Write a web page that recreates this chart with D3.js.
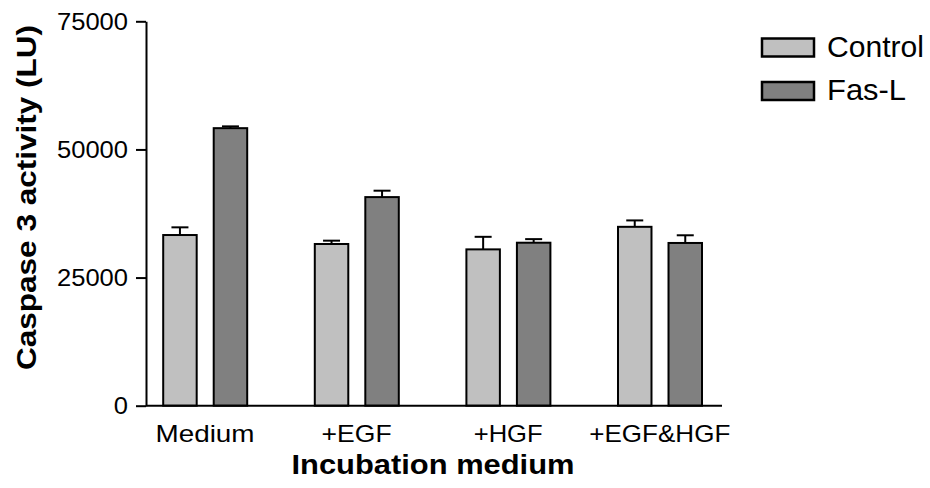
<!DOCTYPE html>
<html>
<head>
<meta charset="utf-8">
<script src="https://cdn.jsdelivr.net/npm/d3@7"></script>
<style>
  html, body { margin: 0; padding: 0; background: #fff; }
  text { font-family: 'Liberation Sans', Arial, sans-serif; fill: #000; }
</style>
</head>
<body>
<div id="chart"></div>
<script>
const categories = ['Medium', '+EGF', '+HGF', '+EGF&HGF']
const series = ['Control', 'Fas-L']
const controlMeans = [33300, 31550, 30500, 34900]
const controlErrors = [1500, 650, 2450, 1250]
const faslMeans = [54150, 40700, 31800, 31750]
const faslErrors = [350, 1250, 700, 1500]
const yTicks = [0, 25000, 50000, 75000]
const colors = ['#c0c0c0', '#808080']

const width = 930
const height = 488

const svg = d3.select('#chart')
  .append('svg')
  .attr('width', width)
  .attr('height', height)

const y = d3.scaleLinear().domain([0, 75000]).range([405.7, 21.3])
const x = d3.scaleBand().domain(categories).range([129.2, 735.6])
const xs = d3.scaleBand().domain(series).range([34, 118]).paddingInner(0.337)

const rows = categories.map((cat, i) => ({
  cat,
  values: [
    { key: 'Control', mean: controlMeans[i], err: controlErrors[i] },
    { key: 'Fas-L', mean: faslMeans[i], err: faslErrors[i] }
  ]
}))

// bars + error bars
const groups = svg.append('g')
  .selectAll('g')
  .data(rows)
  .enter()
  .append('g')
  .attr('transform', d => `translate(${x(d.cat)},0)`)

const bar = groups.selectAll('g')
  .data(d => d.values)
  .enter()
  .append('g')

bar.append('line')
  .attr('x1', d => xs(d.key) + xs.bandwidth() / 2)
  .attr('x2', d => xs(d.key) + xs.bandwidth() / 2)
  .attr('y1', d => y(d.mean))
  .attr('y2', d => y(d.mean + d.err))
  .attr('stroke', '#000')
  .attr('stroke-width', 2)

bar.append('line')
  .attr('x1', d => xs(d.key) + xs.bandwidth() / 2 - 8.5)
  .attr('x2', d => xs(d.key) + xs.bandwidth() / 2 + 8.5)
  .attr('y1', d => y(d.mean + d.err))
  .attr('y2', d => y(d.mean + d.err))
  .attr('stroke', '#000')
  .attr('stroke-width', 2)

bar.append('rect')
  .attr('x', d => xs(d.key))
  .attr('y', d => y(d.mean))
  .attr('width', xs.bandwidth())
  .attr('height', d => y(0) - y(d.mean))
  .attr('fill', d => colors[series.indexOf(d.key)])
  .attr('stroke', '#000')
  .attr('stroke-width', 2)

// y axis
const yAxis = svg.append('g')
  .attr('transform', 'translate(146,0)')
  .call(d3.axisLeft(y).tickValues(yTicks).tickSize(10).tickSizeOuter(0).tickPadding(8).tickFormat(d3.format('d')))

yAxis.select('.domain').attr('stroke', '#000').attr('stroke-width', 2)
yAxis.selectAll('.tick line').attr('stroke', '#000').attr('stroke-width', 2)
yAxis.selectAll('.tick text')
  .attr('font-size', 23)
  .attr('dy', '0.36em')
  .attr('textLength', d => String(d).length * 14.2)
  .attr('lengthAdjust', 'spacingAndGlyphs')
  .style('font-family', "'Liberation Sans', Arial, sans-serif")
  .attr('fill', '#000')

// x baseline
svg.append('line')
  .attr('x1', 146)
  .attr('x2', 722)
  .attr('y1', y(0))
  .attr('y2', y(0))
  .attr('stroke', '#000')
  .attr('stroke-width', 2)

// x labels
const labelWidths = [99, 70, 69, 141]
svg.append('g')
  .selectAll('text')
  .data(categories)
  .enter()
  .append('text')
  .attr('x', d => x(d) + x.bandwidth() / 2)
  .attr('y', 442)
  .attr('text-anchor', 'middle')
  .attr('font-size', 24)
  .attr('textLength', (d, i) => labelWidths[i])
  .attr('lengthAdjust', 'spacingAndGlyphs')
  .text(d => d)

// axis titles
svg.append('text')
  .attr('x', 433)
  .attr('y', 474)
  .attr('text-anchor', 'middle')
  .attr('font-size', 28)
  .attr('font-weight', 'bold')
  .attr('textLength', 283)
  .attr('lengthAdjust', 'spacingAndGlyphs')
  .text('Incubation medium')

svg.append('text')
  .attr('transform', 'translate(36,197.5) rotate(-90)')
  .attr('text-anchor', 'middle')
  .attr('font-size', 27)
  .attr('font-weight', 'bold')
  .attr('textLength', 345)
  .attr('lengthAdjust', 'spacingAndGlyphs')
  .text('Caspase 3 activity (LU)')

// legend
const legend = svg.append('g')
  .selectAll('g')
  .data(series)
  .enter()
  .append('g')
  .attr('transform', (d, i) => `translate(762,${38.5 + i * 43.5})`)

legend.append('rect')
  .attr('width', 52)
  .attr('height', 18)
  .attr('fill', (d, i) => colors[i])
  .attr('stroke', '#000')
  .attr('stroke-width', 2.5)

legend.append('text')
  .attr('x', 65)
  .attr('y', 18)
  .attr('font-size', 29)
  .attr('textLength', (d, i) => [97, 79][i])
  .attr('lengthAdjust', 'spacingAndGlyphs')
  .text(d => d)
</script>
</body>
</html>
